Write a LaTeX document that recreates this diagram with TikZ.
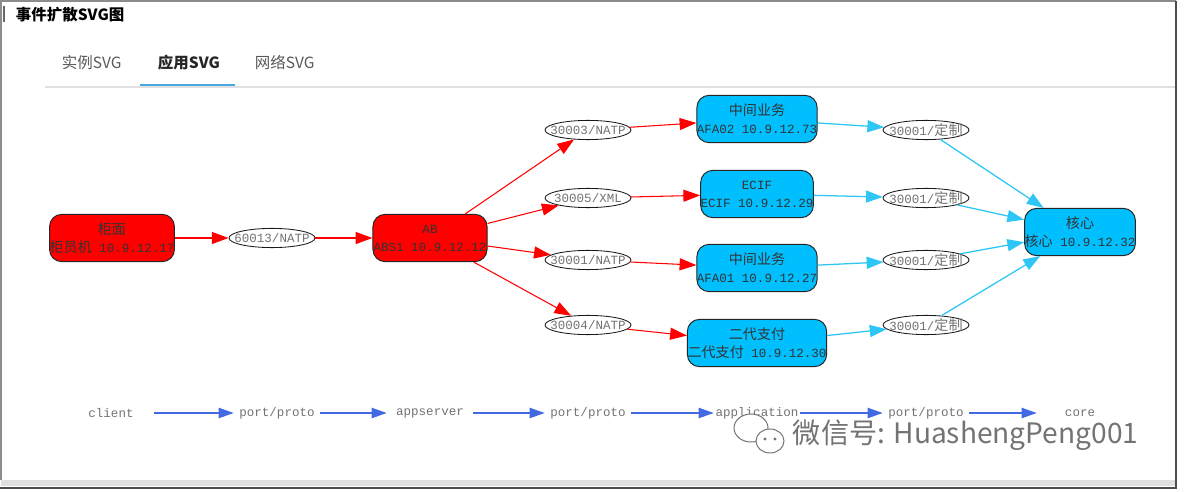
\documentclass[tikz,border=0pt]{standalone}
\usepackage{fontspec}
\setmonofont{Liberation Mono}
\newfontfamily\cjk{Noto Sans CJK SC}
\usetikzlibrary{arrows.meta,shapes.geometric}
\definecolor{boxred}{HTML}{FF0000}
\definecolor{boxblue}{HTML}{00BFFF}
\definecolor{linkcyan}{HTML}{2EC6F5}
\definecolor{legendblue}{HTML}{4169E1}
\definecolor{tabblue}{HTML}{4AA8E0}
\newcommand{\zh}[1]{{\cjk\fontsize{10}{12.8}\selectfont #1}}

\begin{document}
\begin{tikzpicture}[x=0.025cm,y=-0.025cm,
  hostbox/.style={rounded corners=0.3cm,draw=black!85,line width=0.7pt,minimum height=1.18cm,
    inner sep=0pt,align=center,font=\ttfamily\fontsize{8.9}{12.8}\selectfont,text=black!80},
  redbox/.style={hostbox,fill=boxred},
  bluebox/.style={hostbox,fill=boxblue},
  portnode/.style={ellipse,draw=black!90,line width=0.6pt,minimum width=2.15cm,minimum height=0.48cm,inner sep=0pt},
  porttext/.style={font=\ttfamily\fontsize{8.9}{10}\selectfont,text=black!55,inner sep=0pt},
  redlink/.style={-{Triangle[length=0.42cm,width=0.3cm]},red,line width=0.75pt},
  cyanlink/.style={-{Triangle[length=0.42cm,width=0.3cm]},linkcyan,line width=0.9pt},
  legendtext/.style={minimum width=2.15cm,inner sep=0pt,font=\ttfamily\fontsize{8.9}{10}\selectfont,text=black!55},
  legendlink/.style={-{Triangle[length=0.38cm,width=0.26cm]},legendblue,line width=0.9pt},
  tabtext/.style={anchor=west,font=\cjk\fontsize{11}{13}\selectfont,text=black!65}]
\useasboundingbox (0,0) rectangle (1184,492);
\fill[white] (0,0) rectangle (1184,492);
% window frame and tabs
\draw[black!45,line width=0.8pt] (1,480) -- (1,1) -- (1176,1);
\fill[black!12] (1,480) rectangle (1176,486);
\draw[black!70,line width=1.4pt] (0,488) -- (1177,488);
\draw[black!70,line width=1.4pt] (1176,1) -- (1176,488);
\draw[black!60,line width=1pt] (4,6) -- (4,22);
\node[anchor=west,font=\cjk\bfseries\fontsize{11}{13}\selectfont] (title) at (11,15) {事件扩散SVG图};
\node[tabtext] (tab1) at (57,63) {实例SVG};
\node[tabtext,text=black!85,font=\cjk\bfseries\fontsize{11}{13}\selectfont] (tab2) at (153,63) {应用SVG};
\node[tabtext] (tab3) at (250,63) {网络SVG};
\draw[black!12,line width=0.8pt] (45,87) -- (1175,87);
\draw[tabblue,line width=1.6pt] (140,85) -- (235,85);

% hosts
\node[redbox,minimum width=3cm] (gm) at (112,238) {\zh{柜面}\\\zh{柜员机} 10.9.12.17};
\node[redbox,minimum width=2.85cm] (ab) at (430,238) {AB\\ABS1 10.9.12.12};
\node[bluebox,minimum width=3cm] (afa02) at (757,119) {\zh{中间业务}\\AFA02 10.9.12.73};
\node[bluebox,minimum width=2.78cm] (ecif) at (757,194) {ECIF\\ECIF 10.9.12.29};
\node[bluebox,minimum width=3cm] (afa01) at (757,268) {\zh{中间业务}\\AFA01 10.9.12.27};
\node[bluebox,minimum width=3.48cm] (edzf) at (757,343) {\zh{二代支付}\\\zh{二代支付} 10.9.12.30};
\node[bluebox,minimum width=2.65cm] (hx) at (1080,232) {\zh{核心}\\\zh{核心} 10.9.12.32};

% ports
\node[portnode,label={[porttext]center:60013/NATP}] (p60013) at (272,238) {};
\node[portnode,label={[porttext]center:30003/NATP}] (p30003) at (588,130) {};
\node[portnode,label={[porttext]center:30005/XML}] (p30005) at (588,198) {};
\node[portnode,label={[porttext]center:30001/NATP}] (p30001) at (588,260) {};
\node[portnode,label={[porttext]center:30004/NATP}] (p30004) at (588,325) {};
\foreach \n/\y in {1/130,2/198,3/260,4/325}
  \node[portnode,label={[porttext]center:30001/\zh{定制}}] (dz\n) at (926,\y) {};

% links
\draw[redlink] (gm) -- (p60013);
\draw[redlink] (p60013) -- (ab);
\foreach \p/\h in {p30003/afa02,p30005/ecif,p30001/afa01,p30004/edzf}{
  \draw[redlink] (ab) -- (\p);
  \draw[redlink] (\p) -- (\h);
}
\foreach \h/\n in {afa02/1,ecif/2,afa01/3,edzf/4}{
  \draw[cyanlink] (\h) -- (dz\n);
  \draw[cyanlink] (dz\n) -- (hx);
}

% legend
\node[legendtext] (lclient) at (111,413) {client};
\node[legendtext] (lport1) at (277,413) {port/proto};
\node[legendtext] (lapps) at (430,413) {appserver};
\node[legendtext] (lport2) at (588,413) {port/proto};
\node[legendtext] (lapp) at (757,413) {application};
\node[legendtext] (lport3) at (926,413) {port/proto};
\node[legendtext] (lcore) at (1080,413) {core};
\draw[legendlink] (lclient) -- (lport1);
\draw[legendlink] (lport1) -- (lapps);
\draw[legendlink] (lapps) -- (lport2);
\draw[legendlink] (lport2) -- (lapp);
\draw[legendlink] (lapp) -- (lport3);
\draw[legendlink] (lport3) -- (lcore);

% watermark
\draw[black!55,fill=white,line width=0.7pt] (751,428) ellipse (17 and 14);
\draw[black!55,fill=white,line width=0.7pt] (770,441) ellipse (14 and 12);
\foreach \x in {765,775} \fill[black!55] (\x,439) circle (1.6);
\node[anchor=west,font=\cjk\fontsize{20}{20}\selectfont,text=black!55] (mark) at (788,435) {微信号: HuashengPeng001};
\end{tikzpicture}
\end{document}
